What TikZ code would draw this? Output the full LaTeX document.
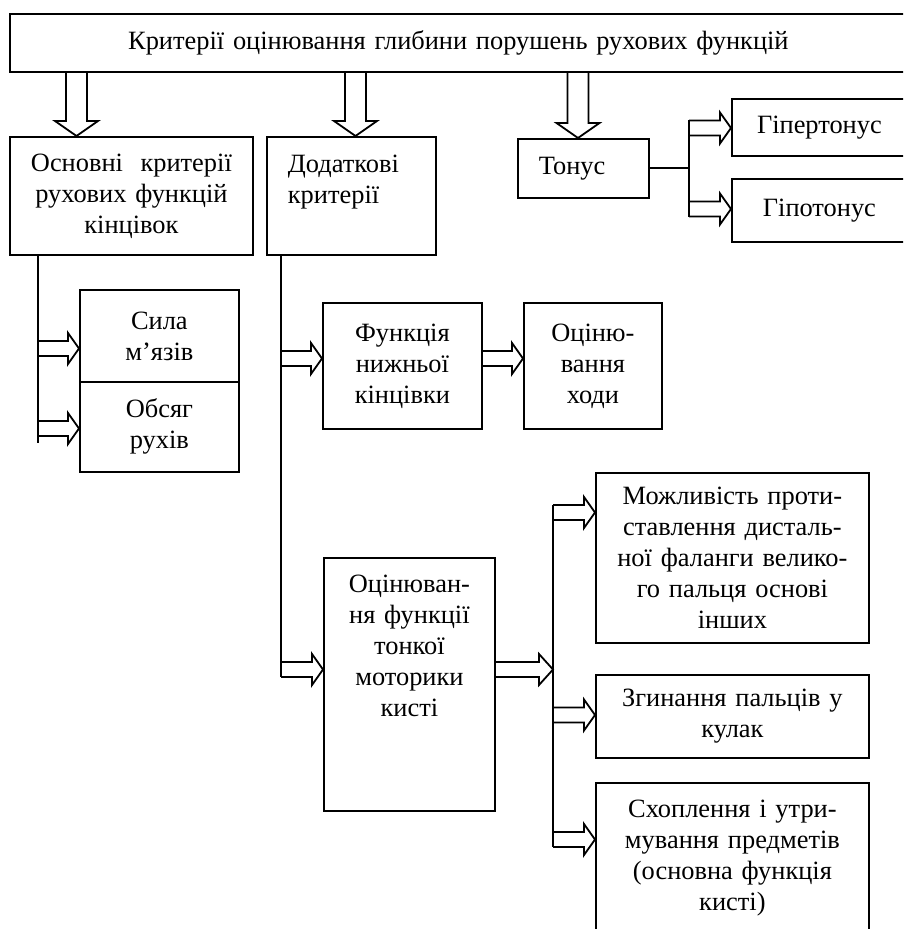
\documentclass[tikz,border=0pt]{standalone}
\usepackage{fontspec}
\setmainfont{Liberation Serif}
\usepackage{tikz}
\usetikzlibrary{calc}

\tikzset{
  box/.style={draw, line width=0.9pt, inner sep=0pt, anchor=north west, align=center,
    font=\fontsize{13.2pt}{15.5pt}\selectfont},
  rarr/.style={line width=0.9pt, to path={let \p1=(\tikztostart), \p2=(\tikztotarget) in
    (\x1,\y2+3.75pt) -- (\x2-#1,\y2+3.75pt) -- (\x2-#1,\y2+7.75pt) -- (\x2,\y2)
    -- (\x2-#1,\y2-7.75pt) -- (\x2-#1,\y2-3.75pt) -- (\x1,\y2-3.75pt)}},
  rarr/.default=5.5pt,
  darr/.style={line width=0.9pt, to path={let \p1=(\tikztostart), \p2=(\tikztotarget) in
    (\x2-5.25pt,\y1) -- (\x2-5.25pt,\y2+7.5pt) -- (\x2-10.75pt,\y2+7.5pt) -- (\x2,\y2)
    -- (\x2+10.75pt,\y2+7.5pt) -- (\x2+5.25pt,\y2+7.5pt) -- (\x2+5.25pt,\y1)}},
  link/.style={line width=0.9pt}
}

\begin{document}
\begin{tikzpicture}[x=0.5pt, y=-0.5pt]
  \useasboundingbox (0,0) rectangle (903,929);
  \clip (0,0) rectangle (903,929);

  \node[box, minimum width=448.5pt, minimum height=29pt, text width=440pt] (top) at (9,13)
    {Критерії оцінювання глибини порушень рухових функцій};
  \node[box, minimum width=121.5pt, minimum height=59pt, text width=105pt] (osn) at (9,136)
    {Основні\ \ критерії\\рухових функцій\\кінцівок};
  \node[box, align=left, inner xsep=10.5pt, minimum width=84.5pt, text width=63.5pt,
    text height=18pt, text depth=41pt] (dod) at (266,136) {Додаткові\\критерії};
  \node[box, align=left, inner xsep=10.5pt, minimum width=65.5pt, minimum height=29.5pt,
    text width=44.5pt] (tonus) at (517,138) {Тонус};
  \node[box, minimum width=87.5pt, minimum height=28.5pt, text width=80pt] (hyper) at (731,98)
    {Гіпертонус};
  \node[box, minimum width=87.5pt, minimum height=31.5pt, text width=80pt] (hypo) at (731,178)
    {Гіпотонус};

  \node[box, minimum width=79.5pt, minimum height=46pt, text width=75pt] (sila) at (79,289)
    {Сила\\м’язів};
  \node[box, minimum width=79.5pt, minimum height=45pt, text width=75pt] (obs) at (79,381)
    {Обсяг\\рухів};
  \node[box, minimum width=79.5pt, minimum height=63pt, text width=75pt] (fun) at (322,302)
    {Функція\\нижньої\\кінцівки};
  \node[box, minimum width=69pt, minimum height=63pt, text width=65pt] (hody) at (523,302)
    {Оціню-\\вання\\ходи};
  \node[box, minimum width=85.5pt, text width=85.5pt, text height=17.5pt, text depth=109pt]
    (otsin) at (323,557) {Оцінюван-\\ня функції\\тонкої\\моторики\\кисті};

  \node[box, minimum width=136.5pt, minimum height=85pt, text width=130pt] (mozh) at (595,472)
    {Можливість проти-\\ставлення дисталь-\\ної фаланги велико-\\го пальця основі\\інших};
  \node[box, minimum width=136.5pt, minimum height=41.5pt, text width=130pt] (zgyn) at (595,674)
    {Згинання пальців у\\кулак};
  \node[box, minimum width=136.5pt, text width=136.5pt, text height=17.5pt, text depth=70pt]
    (skhop) at (595,782) {Схоплення і утри-\\мування предметів\\(основна функція\\кисті)};

  \coordinate (d1) at (76.5,0);
  \coordinate (d2) at (355.5,0);
  \coordinate (d3) at (578,0);
  \draw[darr] (top.south -| d1) to (osn.north -| d1);
  \draw[darr] (top.south -| d2) to (dod.north -| d2);
  \draw[darr] (top.south -| d3) to (tonus.north -| d3);

  \coordinate (v1) at (38,443);
  \coordinate (v2) at (281,677);
  \coordinate (v3) at (689,120);
  \coordinate (v3b) at (689,217);
  \coordinate (v4) at (553,505);
  \coordinate (v4b) at (553,847);
  \draw[link] (osn.south -| v1) -- (v1);
  \draw[link] (dod.south -| v2) -- (v2);
  \draw[link] (tonus.east) -- (tonus.east -| v3);
  \draw[link] (v3) -- (v3b);
  \draw[link] (v4) -- (v4b);

  \coordinate (a1) at (38,348.5);
  \coordinate (a2) at (38,428.5);
  \coordinate (a3) at (281,358.5);
  \coordinate (a4) at (281,669.5);
  \coordinate (a7) at (553,512.5);
  \coordinate (a8) at (553,715);
  \coordinate (a9) at (553,839.5);
  \coordinate (a10) at (689,128);
  \coordinate (a11) at (689,209);
  \draw[rarr] (a1) to (a1 -| sila.west);
  \draw[rarr] (a2) to (a2 -| obs.west);
  \draw[rarr] (a3) to (a3 -| fun.west);
  \draw[rarr] (a4) to (a4 -| otsin.west);
  \draw[rarr] (a3 -| fun.east) to (a3 -| hody.west);
  \draw[rarr=7pt] (a4 -| otsin.east) to (a4 -| v4);
  \draw[rarr] (a7) to (a7 -| mozh.west);
  \draw[rarr] (a8) to (a8 -| zgyn.west);
  \draw[rarr] (a9) to (a9 -| skhop.west);
  \draw[rarr] (a10) to (a10 -| hyper.west);
  \draw[rarr] (a11) to (a11 -| hypo.west);
\end{tikzpicture}
\end{document}
